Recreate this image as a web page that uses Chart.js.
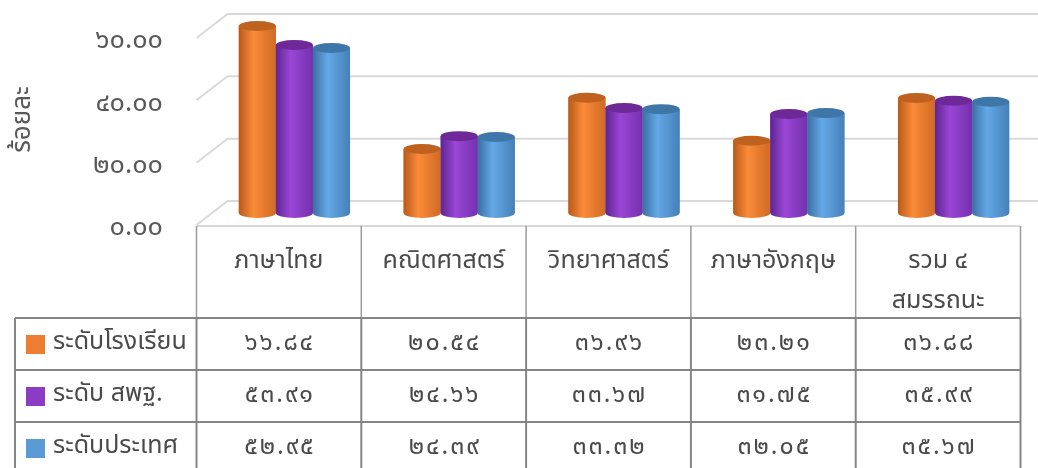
<!DOCTYPE html>
<html lang="th">
<head>
<meta charset="utf-8">
<title>ร้อยละ</title>
<script src="https://cdn.jsdelivr.net/npm/chart.js@4.4.1/dist/chart.umd.min.js"></script>
<style>
  html, body { margin: 0; padding: 0; background: #ffffff; }
  #wrap { width: 1038px; height: 468px; }
</style>
</head>
<body>
<div id="wrap"><canvas id="grafico" width="1038" height="468"></canvas></div>
<script>
const categories = ['ภาษาไทย', 'คณิตศาสตร์', 'วิทยาศาสตร์', 'ภาษาอังกฤษ', ['รวม ๔', 'สมรรถนะ']];
const seriesNames = ['ระดับโรงเรียน', 'ระดับ สพฐ.', 'ระดับประเทศ'];
const schoolLevel = [66.84, 20.54, 36.96, 23.21, 36.88];
const obecLevel = [53.91, 24.66, 33.67, 31.75, 35.99];
const nationLevel = [52.95, 24.39, 33.32, 32.05, 35.67];
const yTicks = [0, 20, 40, 60];
const yTitle = 'ร้อยละ';

// Colores: [sombra izq, brillo, sombra der, tapa]
const palettes = [
    ['#b85a1c', '#fb8b38', '#d06a25', '#c0621f'],
    ['#5e2590', '#9a46d6', '#7430ae', '#6f2898'],
    ['#3b6fa3', '#64a8e6', '#4580b8', '#3f76a8']
];
const swatches = ['#ed7d31', '#8b3bc4', '#5b9bd5'];

const FONT = '"Noto Sans Thai", "Noto Sans", sans-serif';
const DX = 31, DY = 24; // desplazamiento de la pared del fondo (efecto 3D)

const thaiDigits = '๐๑๒๓๔๕๖๗๘๙';
const toThai = s => String(s).replace(/[0-9]/g, d => thaiDigits[d]);

// Paredes y líneas de cuadrícula en perspectiva
const walls = {
    id: 'walls',
    beforeDatasetsDraw(chart) {
        const { ctx, chartArea, scales: { y } } = chart;
        ctx.save();
        ctx.strokeStyle = '#d9d9d9';
        ctx.lineWidth = 2;
        y.ticks.forEach(t => {
            const py = y.getPixelForValue(t.value);
            ctx.beginPath();
            ctx.moveTo(chartArea.left - DX / 2, py + DY / 2);
            ctx.lineTo(chartArea.left + DX / 2, py - DY / 2);
            ctx.lineTo(chart.width, py - DY / 2);
            ctx.stroke();
        });
        ctx.restore();
    }
};

// Cilindros encima de las barras de Chart.js
const cylinders = {
    id: 'cylinders',
    afterDatasetsDraw(chart) {
        const { ctx, chartArea } = chart;
        chart.data.datasets.forEach((ds, di) => {
            const pal = palettes[di];
            chart.getDatasetMeta(di).data.forEach(bar => {
                const { x, y, base, width } = bar.getProps(['x', 'y', 'base', 'width'], true);
                const l = x - width / 2, r = x + width / 2, rx = width / 2, ry = 5;
                const top = Math.max(y, chartArea.top);
                const g = ctx.createLinearGradient(l, 0, r, 0);
                g.addColorStop(0, pal[0]);
                g.addColorStop(0.4, pal[1]);
                g.addColorStop(1, pal[2]);
                ctx.save();
                ctx.fillStyle = g;
                ctx.beginPath();
                ctx.moveTo(l, top);
                ctx.lineTo(l, base);
                ctx.ellipse(x, base, rx, ry, 0, Math.PI, 0, true);
                ctx.lineTo(r, top);
                ctx.closePath();
                ctx.fill();
                ctx.fillStyle = pal[3];
                ctx.beginPath();
                ctx.ellipse(x, top, rx, ry, 0, 0, Math.PI * 2);
                ctx.fill();
                ctx.restore();
            });
        });
    }
};

// Tabla de datos debajo del gráfico
const dataTable = {
    id: 'dataTable',
    afterDraw(chart) {
        const { ctx, scales: { x, y } } = chart;
        const cw = x.getPixelForValue(1) - x.getPixelForValue(0);
        const cols = categories.map((c, i) => x.getPixelForValue(i) - cw / 2 - DX / 2);
        cols.push(cols[cols.length - 1] + cw);
        const top = y.getPixelForValue(0) + DY / 2 + 1;
        const headBottom = top + 92;
        const rowH = 52;
        const legendLeft = 15;
        const right = cols[cols.length - 1];
        const rows = [schoolLevel, obecLevel, nationLevel];

        ctx.save();
        // borde frontal del piso
        ctx.strokeStyle = '#d9d9d9';
        ctx.lineWidth = 2;
        ctx.beginPath();
        ctx.moveTo(cols[0], top);
        ctx.lineTo(right, top);
        ctx.stroke();

        // líneas del encabezado
        ctx.strokeStyle = '#9a9a9a';
        ctx.lineWidth = 1.5;
        cols.forEach(cx => {
            ctx.beginPath();
            ctx.moveTo(cx, top);
            ctx.lineTo(cx, headBottom);
            ctx.stroke();
        });

        // cuadrícula de filas
        ctx.strokeStyle = '#858585';
        ctx.lineWidth = 2;
        for (let k = 0; k <= rows.length; k++) {
            const yy = headBottom + k * rowH;
            ctx.beginPath();
            ctx.moveTo(legendLeft, yy);
            ctx.lineTo(right, yy);
            ctx.stroke();
        }
        [legendLeft].concat(cols).forEach(cx => {
            ctx.beginPath();
            ctx.moveTo(cx, headBottom);
            ctx.lineTo(cx, headBottom + rows.length * rowH);
            ctx.stroke();
        });

        ctx.textBaseline = 'middle';
        rows.forEach((vals, ri) => {
            const cy = headBottom + ri * rowH + rowH / 2;
            ctx.fillStyle = swatches[ri];
            ctx.fillRect(legendLeft + 11, cy - 9, 19, 19);
            ctx.fillStyle = '#4a4a4a';
            ctx.letterSpacing = '0px';
            ctx.font = '25px ' + FONT;
            ctx.textAlign = 'left';
            ctx.fillText(seriesNames[ri], legendLeft + 38, cy);
            ctx.font = '25px ' + FONT;
            ctx.letterSpacing = '2px';
            ctx.textAlign = 'center';
            vals.forEach((v, i) => {
                ctx.fillText(toThai(v.toFixed(2)), (cols[i] + cols[i + 1]) / 2 + 1, cy + 1);
            });
        });
        ctx.restore();
    }
};

Chart.defaults.font.family = FONT;

new Chart(document.getElementById('grafico'), {
    type: 'bar',
    data: {
        labels: categories,
        datasets: [schoolLevel, obecLevel, nationLevel].map((vals, i) => ({
            label: seriesNames[i],
            data: vals,
            backgroundColor: swatches[i],
            borderWidth: 0,
            barPercentage: 1,
            categoryPercentage: 0.675
        }))
    },
    options: {
        responsive: false,
        animation: false,
        devicePixelRatio: 1,
        layout: { padding: { top: 26, right: 2, left: 0, bottom: 0 } },
        plugins: {
            legend: { display: false },
            tooltip: { enabled: false }
        },
        scales: {
            x: {
                grid: { display: false, drawTicks: false },
                border: { display: false },
                ticks: {
                    color: '#4a4a4a',
                    font: { size: 25, lineHeight: 1.6 },
                    padding: 30,
                    labelOffset: -DX / 2,
                    autoSkip: false,
                    maxRotation: 0
                },
                afterFit: s => { s.height = 255; }
            },
            y: {
                min: 0,
                max: 60,
                grid: { display: false, drawTicks: false },
                border: { display: false },
                afterBuildTicks: s => { s.ticks = yTicks.map(v => ({ value: v })); },
                ticks: {
                    color: '#595959',
                    font: { size: 27 },
                    padding: 49,
                    labelOffset: 17,
                    callback: v => toThai(Number(v).toFixed(2))
                },
                title: {
                    display: true,
                    text: yTitle,
                    color: '#595959',
                    font: { size: 26 },
                    padding: { top: 9, bottom: 0 }
                },
                afterFit: s => {
                    s.width = 212;
                    s.paddingTop = 0;
                    s.paddingBottom = 0;
                }
            }
        }
    },
    plugins: [walls, cylinders, dataTable]
});
</script>
</body>
</html>
